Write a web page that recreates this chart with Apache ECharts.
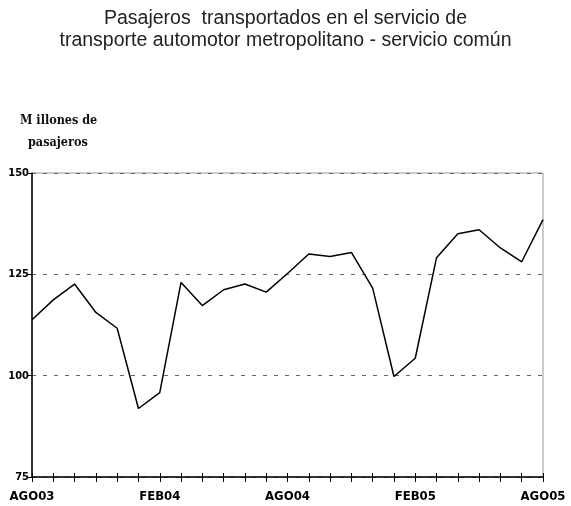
<!DOCTYPE html>
<html>
<head>
<meta charset="utf-8">
<script src="https://cdn.jsdelivr.net/npm/echarts@6/dist/echarts.min.js"></script>
<style>
  html, body { margin: 0; padding: 0; background: #fff; }
  #chart { width: 571px; height: 506px; }
</style>
</head>
<body>
<div id="chart"></div>
<script>
// meses de ago-03 a ago-05
const months = [
  'Ago03', 'Sep03', 'Oct03', 'Nov03', 'Dic03', 'Ene04', 'Feb04',
  'Mar04', 'Abr04', 'May04', 'Jun04', 'Jul04', 'Ago04',
  'Sep04', 'Oct04', 'Nov04', 'Dic04', 'Ene05', 'Feb05',
  'Mar05', 'Abr05', 'May05', 'Jun05', 'Jul05', 'Ago05'
]
// etiquetas visibles del eje x (una cada 6 meses)
const tickLabels = { 0: 'AGO03', 6: 'FEB04', 12: 'AGO04', 18: 'FEB05', 24: 'AGO05' }
// millones de pasajeros
const pasajeros = [
  113.8, 118.7, 122.6, 115.6, 111.7, 91.9, 95.8,
  123.0, 117.3, 121.2, 122.6, 120.6, 125.2,
  130.0, 129.4, 130.4, 121.6, 99.8, 104.3,
  129.1, 135.0, 136.0, 131.5, 128.1, 138.5
]
const yTicks = [75, 100, 125, 150]

let myChart = echarts.init(document.getElementById('chart'))

let options = {
  animation: false,
  title: {
    text: 'Pasajeros  transportados en el servicio de\ntransporte automotor metropolitano - servicio común',
    left: 'center',
    top: 3,
    textStyle: {
      fontFamily: 'Liberation Sans',
      fontSize: 19.5,
      fontWeight: 'normal',
      color: '#222',
      lineHeight: 22
    }
  },
  graphic: [
    {
      type: 'text',
      left: 20,
      top: 114,
      style: {
        text: 'M illones de',
        font: 'bold 12.5px "DejaVu Serif Condensed"',
        fill: '#111'
      }
    },
    {
      type: 'text',
      left: 28,
      top: 136,
      style: {
        text: 'pasajeros',
        font: 'bold 12.5px "DejaVu Serif Condensed"',
        fill: '#111'
      }
    }
  ],
  grid: {
    left: 32,
    right: 28,
    top: 173,
    bottom: 29,
    show: true,
    borderColor: '#999',
    borderWidth: 1
  },
  xAxis: [
    {
      type: 'category',
      data: months,
      boundaryGap: false,
      axisLine: { lineStyle: { color: '#000', width: 1.5 } },
      axisTick: {
        show: true,
        interval: 0,
        length: 5,
        lineStyle: { color: '#000' }
      },
      axisLabel: {
        interval: 0,
        margin: 13,
        fontFamily: 'DejaVu Sans Condensed',
        fontWeight: 'bold',
        fontSize: 13,
        color: '#000',
        formatter: (value, idx) => tickLabels[idx] || ''
      },
      splitLine: { show: false }
    },
    {
      // marcas hacia adentro para que crucen el eje
      type: 'category',
      data: months,
      position: 'bottom',
      offset: 0,
      boundaryGap: false,
      axisLine: { show: false },
      axisTick: {
        show: true,
        inside: true,
        interval: 0,
        length: 4,
        lineStyle: { color: '#000' }
      },
      axisLabel: { show: false },
      splitLine: { show: false }
    }
  ],
  yAxis: {
    type: 'value',
    min: yTicks[0],
    max: yTicks[yTicks.length - 1],
    interval: 25,
    axisLine: { show: true, lineStyle: { color: '#000', width: 1.5 } },
    axisTick: { show: true, length: 4, lineStyle: { color: '#000' } },
    axisLabel: {
      margin: 3,
      fontFamily: 'DejaVu Sans Condensed',
      fontWeight: 'bold',
      fontSize: 11,
      color: '#000'
    },
    splitLine: {
      show: true,
      lineStyle: { color: '#666', type: [4, 7], width: 1 }
    }
  },
  series: [
    {
      name: 'Pasajeros',
      type: 'line',
      data: pasajeros,
      symbol: 'none',
      lineStyle: { color: '#000', width: 1.5 }
    }
  ]
}
myChart.setOption(options)
</script>
</body>
</html>
